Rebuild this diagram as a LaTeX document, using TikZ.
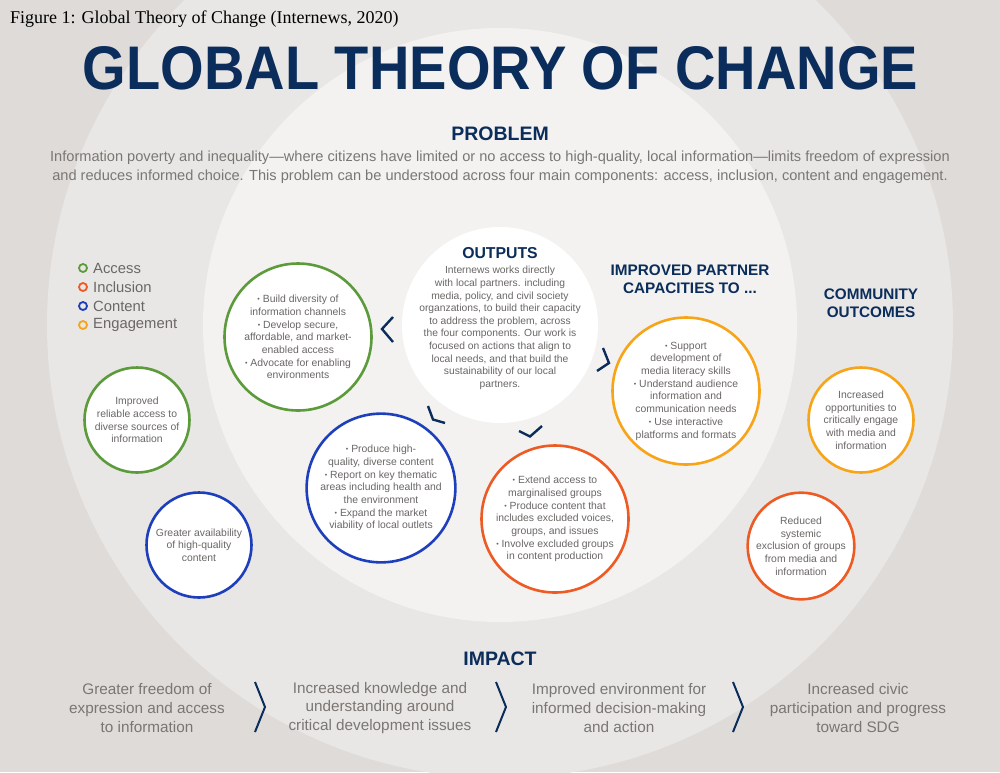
\documentclass[tikz,border=0pt]{standalone}
\usepackage{fontspec}
\setmainfont{Liberation Sans}
\newfontfamily\capserif{Liberation Serif}
\usepackage{graphicx}
\definecolor{bgA}{HTML}{DEDBD9}
\definecolor{bgB}{HTML}{E9E7E5}
\definecolor{bgC}{HTML}{F3F2F0}
\definecolor{navy}{HTML}{0B2D5B}
\definecolor{cgreen}{HTML}{5B9B3B}
\definecolor{corange}{HTML}{EE5A24}
\definecolor{cblue}{HTML}{1D3FBB}
\definecolor{cyellow}{HTML}{F7A418}
\definecolor{gtext}{HTML}{7A7673}
\definecolor{ctextc}{HTML}{6A6765}
\newcommand\mybul{\raisebox{0.8pt}{\fontsize{7}{7}\selectfont •}\ }
\begin{document}
\begin{tikzpicture}[x=1pt,y=-1pt,
  bub/.style={circle, draw, line width=2.6pt, fill=white, inner sep=0pt, align=center,
    text=ctextc, font=\fontsize{10.4}{12.7}\selectfont},
  bigbub/.style={bub, minimum size=147pt},
  smallbub/.style={bub, minimum size=105pt},
  head/.style={text=navy, font=\bfseries\fontsize{19.5}{21}\selectfont, inner sep=0pt},
  subhead/.style={text=navy, font=\bfseries\fontsize{15.3}{18.3}\selectfont, align=center, inner sep=0pt},
  ptext/.style={text=gtext, font=\fontsize{14.6}{19}\selectfont, align=center, inner sep=0pt},
  itext/.style={text=gtext, font=\fontsize{15.3}{18.6}\selectfont, align=center, inner sep=0pt},
  legdot/.style={circle, draw, line width=1.8pt, minimum size=8pt, inner sep=0pt},
  legtxt/.style={text=ctextc, font=\fontsize{14.8}{17}\selectfont, anchor=west, inner sep=0pt},
  chev/.style={draw=navy, line width=2.4pt, line cap=butt, line join=miter},
  ichev/.style={draw=navy, line width=2pt, line join=miter}
]
\useasboundingbox (0,0) rectangle (1000,772);
% background rings
\fill[bgA] (0,0) rectangle (1000,772);
\fill[bgB] (500,325) circle[radius=453];
\fill[bgC] (500,325) circle[radius=297];
\node[circle, fill=white, minimum size=196pt, inner sep=0pt] (outc) at (500,325) {};

% caption and title
\node[anchor=base west, inner sep=0pt, font=\capserif\fontsize{18}{20}\selectfont] (cap) at (10,23)
  {Figure 1: Global Theory of Change (Internews, 2020)};
\node[anchor=center, inner sep=0pt, text=navy] (title) at (500.5,68.5)
  {\resizebox{835pt}{43pt}{\bfseries GLOBAL THEORY OF CHANGE}};

% problem
\node[head] (prob) at (500,134) {PROBLEM};
\node[ptext] (probt) at (500,167) {Information poverty and inequality—where citizens have limited or no access to high-quality, local information—limits freedom of expression\\
and reduces informed choice. This problem can be understood across four main components: access, inclusion, content and engagement.};

% legend
\node[legdot, draw=cgreen] (l1) at (83,268) {};
\node[legdot, draw=corange] (l2) at (83,287) {};
\node[legdot, draw=cblue] (l3) at (83,306) {};
\node[legdot, draw=cyellow] (l4) at (83,325) {};
\node[legtxt] (t1) at (93,268) {Access};
\node[legtxt] (t2) at (93,287) {Inclusion};
\node[legtxt] (t3) at (93,306) {Content};
\node[legtxt] (t4) at (93,325) {Engagement};

% outputs
\node[text=navy, font=\bfseries\fontsize{15.8}{18}\selectfont, inner sep=0pt] (outh) at (500,253) {OUTPUTS};
\node[text=ctextc, font=\fontsize{10.3}{12.6}\selectfont, align=center, inner sep=0pt] (outt) at (500,328)
  {Internews works directly\\ with local partners. including\\ media, policy, and civil society\\
   organzations, to build their capacity\\ to address the problem, across\\ the four components. Our work is\\
   focused on actions that align to\\ local needs, and that build the\\ sustainability of our local\\ partners.};

% headings
\node[subhead] (iph) at (690,279) {IMPROVED PARTNER\\CAPACITIES TO ...};
\node[subhead] (coh) at (871,303) {COMMUNITY\\OUTCOMES};

% output circles
\node[bigbub, draw=cgreen] (access) at (298,337)
  {\mybul Build diversity of\\ information channels\\ \mybul Develop secure,\\ affordable, and market-\\ enabled access\\ \mybul Advocate for enabling\\ environments};
\node[bigbub, draw=cblue] (content) at (381,488)
  {\mybul Produce high-\\ quality, diverse content\\ \mybul Report on key thematic\\ areas including health and\\ the environment\\ \mybul Expand the market\\ viability of local outlets};
\node[bigbub, draw=corange] (inclusion) at (555,519)
  {\mybul Extend access to\\ marginalised groups\\ \mybul Produce content that\\ includes excluded voices,\\ groups, and issues\\ \mybul Involve excluded groups\\ in content production};
\node[bigbub, draw=cyellow] (engage) at (686,391)
  {\mybul Support\\ development of\\ media literacy skills\\ \mybul Understand audience\\ information and\\ communication needs\\ \mybul Use interactive\\ platforms and formats};

% outcome circles
\node[smallbub, draw=cgreen] (oacc) at (137,420) {Improved\\ reliable access to\\ diverse sources of\\ information};
\node[smallbub, draw=cblue] (ocont) at (199,545) {Greater availability\\ of high-quality\\ content};
\node[smallbub, draw=cyellow] (oeng) at (861,420) {Increased\\ opportunities to\\ critically engage\\ with media and\\ information};
\node[smallbub, draw=corange] (oinc) at (801,546) {Reduced\\ systemic\\ exclusion of groups\\ from media and\\ information};

% chevrons around outputs
\draw[chev] (393,317) -- (382,329) -- (393,342);
\draw[chev] (603,348) -- (609,363) -- (597,371);
\draw[chev] (428,406) -- (433,419.5) -- (445,423);
\draw[chev] (519,431) -- (530,436.5) -- (542,426);

% impact
\node[head] (imph) at (500,658.5) {IMPACT};
\node[itext] (i1) at (147,708) {Greater freedom of\\ expression and access\\ to information};
\node[itext] (i2) at (380,708) {Increased knowledge and\\ understanding around\\ critical development issues};
\node[itext] (i3) at (619,708) {Improved environment for\\ informed decision-making\\ and action};
\node[itext] (i4) at (858,708) {Increased civic\\ participation and progress\\ toward SDG};
\draw[ichev] (255,682) -- (265,707) -- (255,732);
\draw[ichev] (496,682) -- (506,707) -- (496,732);
\draw[ichev] (733,682) -- (743,707) -- (733,732);
\end{tikzpicture}
\end{document}
